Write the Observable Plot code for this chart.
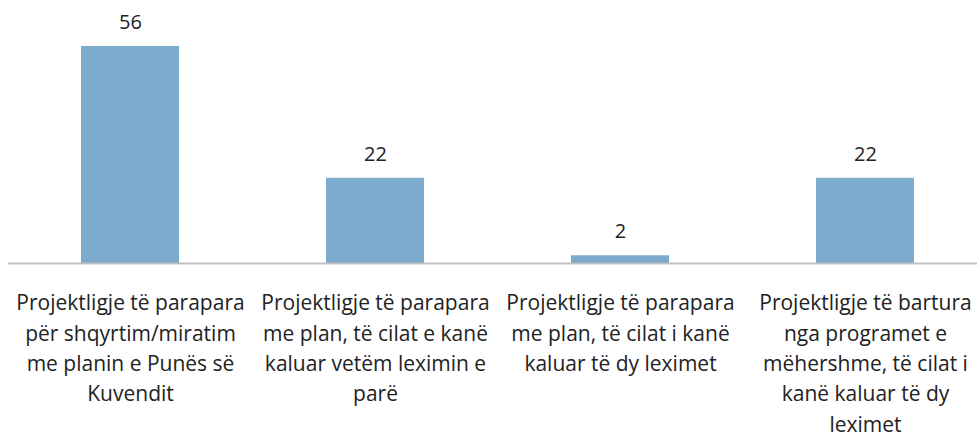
<!DOCTYPE html>
<html>
<head>
<meta charset="utf-8">
<script src="https://cdn.jsdelivr.net/npm/d3@7"></script>
<script src="https://cdn.jsdelivr.net/npm/@observablehq/plot@0.6"></script>
<style>
  html, body { margin: 0; padding: 0; background: #fff; }
  #chart svg { display: block; }
</style>
</head>
<body>
<div id="chart"></div>
<script>
const categories = [
  "Projektligje të parapara\npër shqyrtim/miratim\nme planin e Punës së\nKuvendit",
  "Projektligje të parapara\nme plan, të cilat e kanë\nkaluar vetëm leximin e\nparë",
  "Projektligje të parapara\nme plan, të cilat i kanë\nkaluar të dy leximet",
  "Projektligje të bartura\nnga programet e\nmëhershme, të cilat i\nkanë kaluar të dy\nleximet"
];
const values = [56, 22, 2, 22];

const data = categories.map((c, i) => ({category: c, value: values[i]}));

const chart = Plot.plot({
  width: 980,
  height: 438,
  marginTop: 46,
  marginBottom: 175,
  marginLeft: 8,
  marginRight: 3,
  style: {fontFamily: "'Open Sans'", fontSize: "20px", color: "#222", background: "#fff"},
  x: {domain: categories, range: [6, 989], paddingInner: 0.6, paddingOuter: 0.3, axis: null},
  y: {domain: [0, 56], axis: null},
  marks: [
    Plot.barY(data, {x: "category", y: "value", fill: "#7bacce"}),
    Plot.ruleY([0], {stroke: "#c0c0c0", strokeWidth: 2}),
    Plot.text(data, {x: "category", y: "value", text: d => String(d.value), dy: -24, fontSize: 20, fill: "#222"}),
    Plot.axisX({tickSize: 0, tickPadding: 25, fontSize: 21, lineHeight: 1.45, fill: "#222", label: null, textOverflow: null, lineWidth: Infinity})
  ]
});
document.getElementById("chart").appendChild(chart);
</script>
</body>
</html>
